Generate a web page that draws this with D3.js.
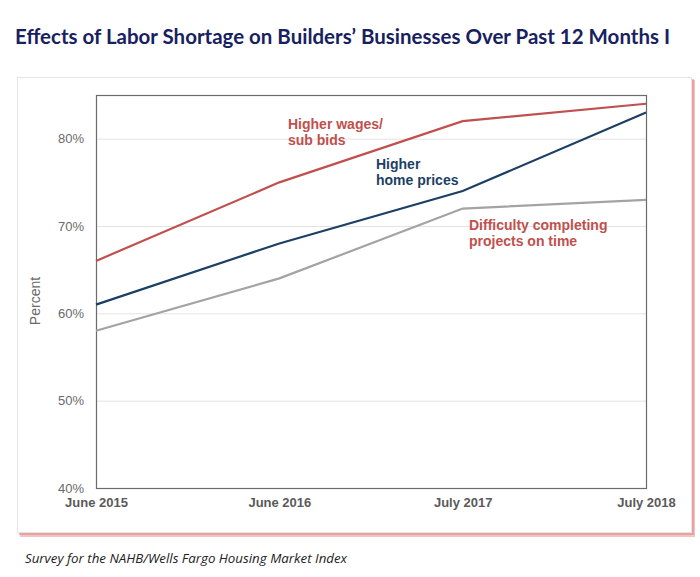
<!DOCTYPE html>
<html>
<head>
<meta charset="utf-8">
<script src="https://cdn.jsdelivr.net/npm/d3@7"></script>
<style>
  html, body { margin: 0; padding: 0; background: #fff; }
  svg { display: block; }
</style>
</head>
<body>
<script>
const categories = ["June 2015", "June 2016", "July 2017", "July 2018"];
const wages = [66, 75, 82, 84];
const homePrices = [61, 68, 74, 83];
const completing = [58, 64, 72, 73];
const yTicks = [40, 50, 60, 70, 80];

(function () {
const W = 700, H = 577;
const svg = d3.select("body").append("svg").attr("width", W).attr("height", H);

// Title
svg.append("text")
  .attr("x", 15).attr("y", 44)
  .attr("font-family", "Lato, 'Open Sans', sans-serif")
  .attr("font-weight", "bold")
  .attr("font-size", 20)
  .attr("fill", "#18215f")
  .attr("textLength", 655).attr("lengthAdjust", "spacingAndGlyphs")
  .text("Effects of Labor Shortage on Builders\u2019 Businesses Over Past 12 Months I");

// Card with red shadow
svg.append("rect").attr("x", 20).attr("y", 80).attr("width", 675).attr("height", 457)
  .attr("fill", "#f3c4c4");
svg.append("rect").attr("x", 19).attr("y", 79).attr("width", 675).attr("height", 456)
  .attr("fill", "#e28b8b").attr("opacity", 0.6);
svg.append("rect").attr("x", 17.5).attr("y", 77.5).attr("width", 674).attr("height", 455)
  .attr("fill", "#fff").attr("stroke", "#e4e4e4").attr("stroke-width", 1);

// Plot
const pl = 96, pr = 646, pt = 95, pb = 488;
const x = d3.scalePoint().domain(categories).range([pl, pr]);
const y = d3.scaleLinear().domain([40, 85]).range([pb, pt]);

// Gridlines
svg.append("g").selectAll("line").data(yTicks.filter(d => d > 40)).join("line")
  .attr("x1", pl).attr("x2", pr)
  .attr("y1", d => y(d) + 0.5).attr("y2", d => y(d) + 0.5)
  .attr("stroke", "#e3e3e3").attr("stroke-width", 1);

// Y axis
const yAxis = svg.append("g").attr("transform", `translate(${pl},0)`)
  .call(d3.axisLeft(y).tickValues(yTicks).tickSize(0).tickPadding(12).tickFormat(d => d + "%"));
yAxis.select(".domain").remove();
yAxis.selectAll("text").attr("font-family", "Arial, 'Liberation Sans', sans-serif")
  .attr("font-size", 13).attr("fill", "#6a6a6a");

// X axis
const xAxis = svg.append("g").attr("transform", `translate(0,${pb})`)
  .call(d3.axisBottom(x).tickSize(0).tickPadding(10));
xAxis.select(".domain").remove();
xAxis.selectAll("text").attr("font-family", "Arial, 'Liberation Sans', sans-serif")
  .attr("font-size", 13).attr("font-weight", "bold").attr("fill", "#5a5a5a");

// Plot border
svg.append("rect").attr("x", pl + 0.5).attr("y", pt + 0.5)
  .attr("width", pr - pl).attr("height", pb - pt)
  .attr("fill", "none").attr("stroke", "#6b6b6b").attr("stroke-width", 1.2);

// Y title
svg.append("text")
  .attr("transform", `translate(40,301) rotate(-90)`)
  .attr("text-anchor", "middle")
  .attr("font-family", "Arial, 'Liberation Sans', sans-serif")
  .attr("font-size", 14).attr("fill", "#6a6a6a")
  .text("Percent");

// Lines
const line = d3.line().x((d, i) => x(categories[i])).y(d => y(d));
const series = [
  { values: completing, color: "#a3a3a3" },
  { values: homePrices, color: "#1d3f66" },
  { values: wages, color: "#c0504d" }
];
svg.append("g").selectAll("path").data(series).join("path")
  .attr("d", d => line(d.values))
  .attr("fill", "none").attr("stroke", d => d.color).attr("stroke-width", 2.2);

// Annotations
const ann = [
  { lines: ["Higher wages/", "sub bids"], x: 288, y: 129, color: "#c0504d" },
  { lines: ["Higher", "home prices"], x: 376, y: 169, color: "#1d3f66" },
  { lines: ["Difficulty completing", "projects on time"], x: 469, y: 230, color: "#c0504d" }
];
ann.forEach(a => {
  const t = svg.append("text")
    .attr("font-family", "Arial, 'Liberation Sans', sans-serif")
    .attr("font-size", 14).attr("font-weight", "bold").attr("fill", a.color);
  a.lines.forEach((l, i) => {
    t.append("tspan").attr("x", a.x).attr("y", a.y + i * 16).text(l);
  });
});

// Footnote
svg.append("text")
  .attr("x", 25).attr("y", 563)
  .attr("font-family", "'Open Sans', sans-serif")
  .attr("font-style", "italic")
  .attr("font-size", 13).attr("fill", "#222")
  .attr("textLength", 322).attr("lengthAdjust", "spacingAndGlyphs")
  .text("Survey for the NAHB/Wells Fargo Housing Market Index");
})();
</script>
</body>
</html>
